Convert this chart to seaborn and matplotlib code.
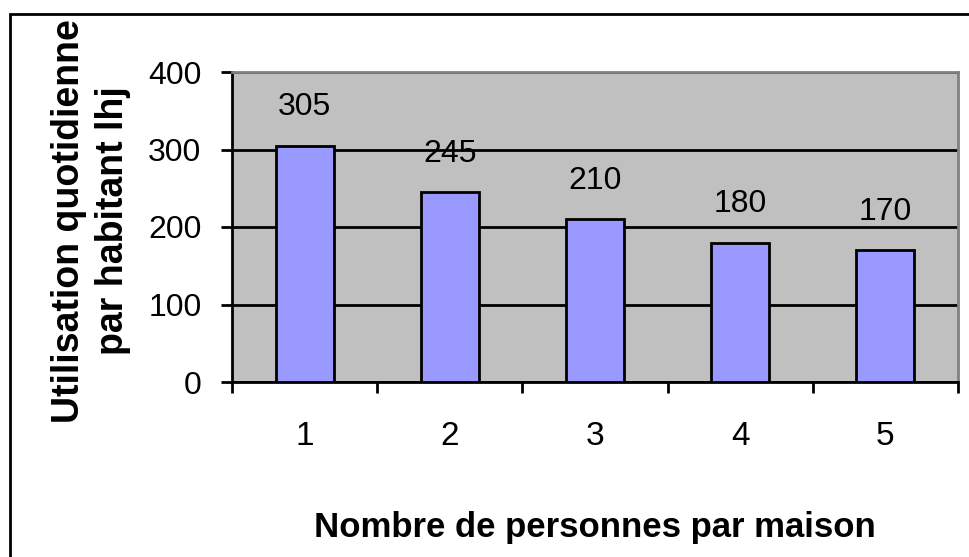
import matplotlib
matplotlib.use("Agg")
import matplotlib.pyplot as plt
import matplotlib.patches as mpatches
import pandas as pd
import seaborn as sns

# donnees
personnes = ['1', '2', '3', '4', '5']
utilisation = [305, 245, 210, 180, 170]
yticks = [0, 100, 200, 300, 400]

df = pd.DataFrame({'personnes': personnes, 'utilisation': utilisation})

sns.set_style("white")
plt.rcParams['font.family'] = ['Liberation Sans', 'DejaVu Sans']
plt.rcParams['text.color'] = 'black'
plt.rcParams['xtick.color'] = 'black'
plt.rcParams['ytick.color'] = 'black'
plt.rcParams['axes.labelcolor'] = 'black'

fig = plt.figure(figsize=(9.7, 5.57), dpi=100)
ax = fig.add_axes([232 / 970, 175 / 557, 726 / 970, 310 / 557])
ax.set_facecolor('#C0C0C0')

sns.barplot(x='personnes', y='utilisation', data=df, color='#9999FF',
            edgecolor='black', linewidth=2, width=0.4, saturation=1, ax=ax, zorder=3)

ax.set_ylim(0, 400)
ax.set_xlim(-0.5, 4.5)
ax.set_yticks(yticks)
ax.yaxis.grid(True, color='black', linewidth=2)
ax.set_axisbelow(True)

# graduations x entre les categories
ax.set_xticks([i - 0.5 for i in range(6)], minor=True)
ax.tick_params(axis='x', which='minor', length=8, width=2, color='black', direction='out', bottom=True)
ax.tick_params(axis='x', which='major', length=0, pad=28, labelsize=24)
ax.tick_params(axis='y', length=8, width=2, color='black', direction='out', left=True, pad=14, labelsize=23)

for s in ['left', 'bottom']:
    ax.spines[s].set_color('black')
    ax.spines[s].set_linewidth(2)
for s in ['top', 'right']:
    ax.spines[s].set_color('#808080')
    ax.spines[s].set_linewidth(2)

ax.bar_label(ax.containers[0], labels=[str(v) for v in utilisation], padding=17, fontsize=23)

ax.set_ylabel('')
ax.set_xlabel('Nombre de personnes par maison', fontsize=25, fontweight='bold')
ax.xaxis.set_label_coords(0.5, (382 - 528) / 310)
ax.xaxis.label.set_va('center')

fig.text(91 / 970, (557 - 221) / 557, 'Utilisation quotidienne\npar habitant lhj',
         rotation=90, ha='center', va='center', fontsize=27, fontweight='bold',
         linespacing=1.3, multialignment='center')

# cadre exterieur
fig.add_artist(mpatches.Rectangle((10 / 970, -0.05), 1.2, (557 - 14) / 557 + 0.05,
                                  transform=fig.transFigure, fill=False,
                                  edgecolor='black', linewidth=2, clip_on=False))

fig.savefig('out.png', dpi=100)
